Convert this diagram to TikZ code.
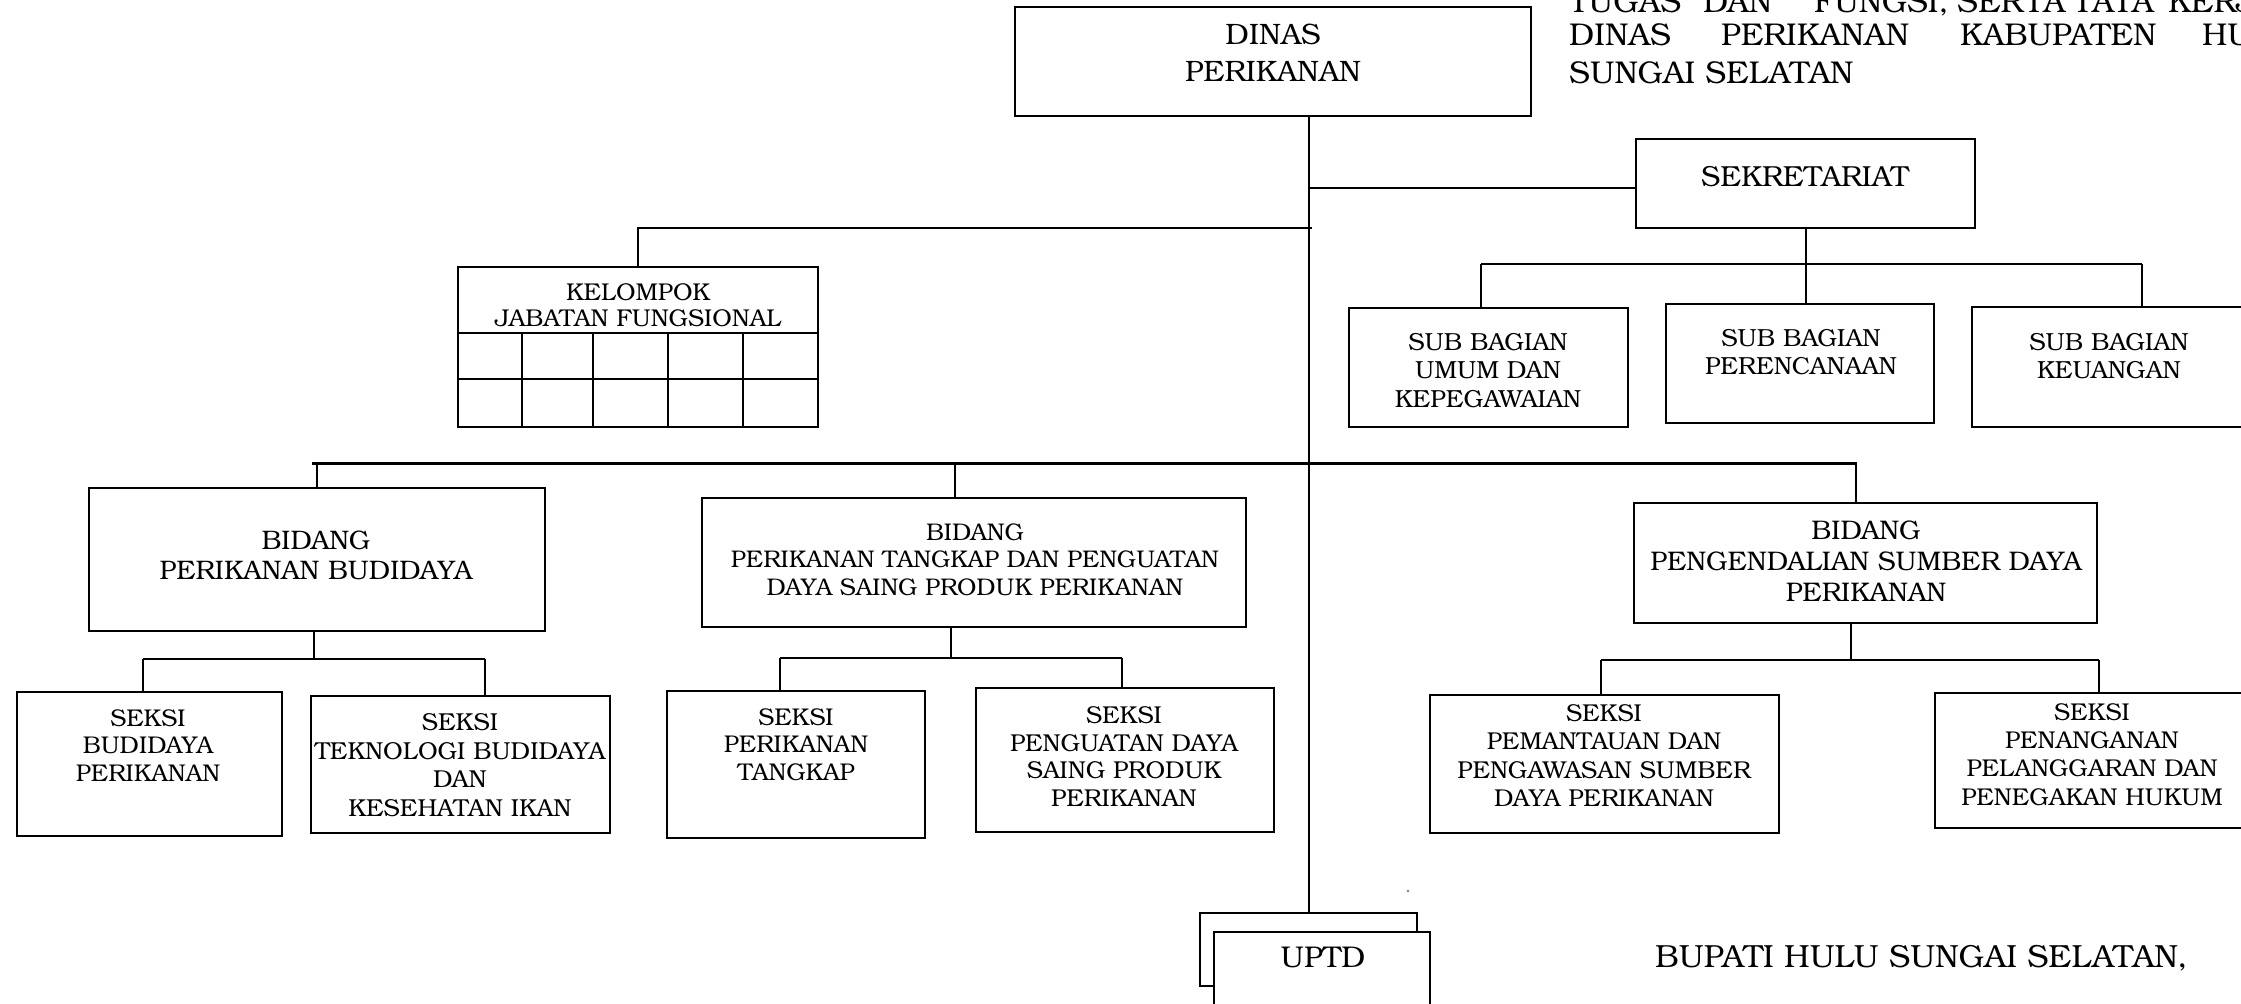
\documentclass[tikz,border=0pt]{standalone}
\usepackage{fontspec}
\setmainfont{TeX Gyre Bonum}
\newcommand{\fsz}[2]{\fontsize{#1pt}{#2pt}\selectfont}
\begin{document}
\begin{tikzpicture}[x=1pt,y=-1pt,
  box/.style={draw,line width=2.3pt,inner sep=0pt,outer sep=0pt,fill=white},
  txt/.style={inner sep=0pt,outer sep=0pt,align=center},
  conn/.style={line width=2pt},
  bar/.style={line width=3pt},
  grid/.style={line width=2pt}]
\clip (0,0) rectangle (2241,1004);
\fill[white] (0,0) rectangle (2241,1004);

% ---- top boxes
\node[box,minimum width=516pt,minimum height=109pt] (dinas) at (1273,61.5) {};
\node[txt,font=\fsz{29.5}{37}] (dinasT) at (1273,52.5) {DINAS\\PERIKANAN};

% title (justified words)
\begin{scope}[every node/.style={inner sep=0pt,anchor=base west,font=\fsz{31.5}{37}}]
\node (t11) at (1569,12) {TUGAS};
\node (t12) at (1703,12) {DAN};
\node (t13) at (1814,12) {FUNGSI,};
\node (t14) at (1957,12) {SERTA};
\node (t15) at (2073,12) {TATA};
\node (t16) at (2168,12) {KERJA};
\node (t21) at (1569,45) {DINAS};
\node (t22) at (1721,45) {PERIKANAN};
\node (t23) at (1960,45) {KABUPATEN};
\node (t24) at (2202,45) {HULU};
\node (t31) at (1569,83) {SUNGAI SELATAN};
\end{scope}
\node[inner sep=0pt,anchor=base west,font=\fsz{32}{38}] (bup) at (1655,967) {BUPATI HULU SUNGAI SELATAN,};

\node[box,minimum width=339pt,minimum height=89pt] (sekre) at (1805.5,183.5) {};
\node[txt,font=\fsz{29}{34}] (sekreT) at (1805,177) {SEKRETARIAT};

\node[box,minimum width=279pt,minimum height=119pt] (umum) at (1488.5,367.5) {};
\node[txt,font=\fsz{24.7}{28.5}] (umumT) at (1488,370.5) {SUB BAGIAN\\UMUM DAN\\KEPEGAWAIAN};
\node[box,minimum width=268pt,minimum height=119pt] (renc) at (1800,363.5) {};
\node[txt,font=\fsz{24.7}{28}] (rencT) at (1801,352) {SUB BAGIAN\\PERENCANAAN};
\node[box,minimum width=278pt,minimum height=120pt] (keu) at (2111,367) {};
\node[txt,font=\fsz{24.7}{28}] (keuT) at (2109,356) {SUB BAGIAN\\KEUANGAN};

% ---- kelompok jabatan fungsional
\node[box,minimum width=360pt,minimum height=160pt] (kel) at (638,347) {};
\node[txt,font=\fsz{24.3}{26}] (kelT) at (638,305) {KELOMPOK\\JABATAN FUNGSIONAL};
\draw[grid] (kel.west |- 0,333) -- (kel.east |- 0,333);
\draw[grid] (kel.west |- 0,379) -- (kel.east |- 0,379);
\foreach \gx in {522,593,668,743} \draw[grid] (\gx,333) -- (\gx,427);

% ---- bidang
\node[box,minimum width=456pt,minimum height=143pt] (bbud) at (317,559.5) {};
\node[txt,font=\fsz{26.8}{30}] (bbudT) at (316,555) {BIDANG\\PERIKANAN BUDIDAYA};
\node[box,minimum width=544pt,minimum height=129pt] (btan) at (974,562.5) {};
\node[txt,font=\fsz{24.1}{27.5}] (btanT) at (975,559.5) {BIDANG\\PERIKANAN TANGKAP DAN PENGUATAN\\DAYA SAING PRODUK PERIKANAN};
\node[box,minimum width=463pt,minimum height=120pt] (bpen) at (1865.5,563) {};
\node[txt,font=\fsz{26.9}{31}] (bpenT) at (1866,561) {BIDANG\\PENGENDALIAN SUMBER DAYA\\PERIKANAN};

% ---- seksi
\node[box,minimum width=265pt,minimum height=144pt] (s1) at (149.5,764) {};
\node[txt,font=\fsz{24.2}{27.5}] (s1T) at (148,745.5) {SEKSI\\BUDIDAYA\\PERIKANAN};
\node[box,minimum width=299pt,minimum height=137pt] (s2) at (460.5,764.5) {};
\node[txt,font=\fsz{24.5}{28.7}] (s2T) at (460,765) {SEKSI\\TEKNOLOGI BUDIDAYA\\DAN\\KESEHATAN IKAN};
\node[box,minimum width=258pt,minimum height=147pt] (s3) at (796,764.5) {};
\node[txt,font=\fsz{24.2}{27.5}] (s3T) at (796,744.5) {SEKSI\\PERIKANAN\\TANGKAP};
\node[box,minimum width=298pt,minimum height=144pt] (s4) at (1125,760) {};
\node[txt,font=\fsz{24.4}{27.7}] (s4T) at (1124,756.5) {SEKSI\\PENGUATAN DAYA\\SAING PRODUK\\PERIKANAN};
\node[box,minimum width=349pt,minimum height=138pt] (s5) at (1604.5,764) {};
\node[txt,font=\fsz{24.4}{28.3}] (s5T) at (1604,755.5) {SEKSI\\PEMANTAUAN DAN\\PENGAWASAN SUMBER\\DAYA PERIKANAN};
\node[box,minimum width=314pt,minimum height=135pt] (s6) at (2092,760.5) {};
\node[txt,font=\fsz{24.3}{28.3}] (s6T) at (2092,754.5) {SEKSI\\PENANGANAN\\PELANGGARAN DAN\\PENEGAKAN HUKUM};

% ---- UPTD
\node[box,minimum width=217pt,minimum height=73pt] (uptdb) at (1308.5,949.5) {};
\node[box,minimum width=216pt,minimum height=80pt] (uptd) at (1322,972) {};
\node[txt,font=\fsz{30}{36}] (uptdT) at (1323,957) {UPTD};
\fill[gray] (1408,891) circle (1.4pt);

% ---- connectors
\coordinate (jS) at (1309,188);
\coordinate (jK) at (1312,228);
\draw[conn] (dinas.south -| uptdb.north) -- (uptdb.north);
\draw[conn] (jS) -- (jS -| sekre.west);
\draw[conn] (jK) -| (kel.north);

% sekretariat subtree
\coordinate (sbL) at (1481,264);
\coordinate (sbR) at (2142,264);
\draw[conn] (sekre.south) -- (sekre.south |- sbL);
\draw[conn] (sbL) -- (sbR);
\draw[conn] (sbL) -- (sbL |- umum.north);
\draw[conn] (sekre.south |- sbL) -- (sekre.south |- renc.north);
\draw[conn] (sbR) -- (sbR |- keu.north);

% bidang bar
\coordinate (bbL) at (312,463);
\coordinate (bbR) at (1857,463);
\coordinate (vT) at (955,463);
\coordinate (vP) at (1856,463);
\draw[bar] (bbL) -- (bbR);
\draw[conn] (bbud.north |- bbL) -- (bbud.north);
\draw[conn] (vT) -- (vT |- btan.north);
\draw[conn] (vP) -- (vP |- bpen.north);

% under budidaya
\coordinate (u1) at (314,659);
\coordinate (u1L) at (143,659);
\coordinate (u1R) at (485,659);
\draw[conn] (u1 |- bbud.south) -- (u1);
\draw[conn] (u1L) -- (u1R);
\draw[conn] (u1L) -- (u1L |- s1.north);
\draw[conn] (u1R) -- (u1R |- s2.north);

% under tangkap
\coordinate (u2) at (951,658);
\coordinate (u2L) at (780,658);
\coordinate (u2R) at (1122,658);
\draw[conn] (u2 |- btan.south) -- (u2);
\draw[conn] (u2L) -- (u2R);
\draw[conn] (u2L) -- (u2L |- s3.north);
\draw[conn] (u2R) -- (u2R |- s4.north);

% under pengendalian
\coordinate (u3) at (1851,660);
\coordinate (u3L) at (1601,660);
\coordinate (u3R) at (2099,660);
\draw[conn] (u3 |- bpen.south) -- (u3);
\draw[conn] (u3L) -- (u3R);
\draw[conn] (u3L) -- (u3L |- s5.north);
\draw[conn] (u3R) -- (u3R |- s6.north);
\end{tikzpicture}
\end{document}
